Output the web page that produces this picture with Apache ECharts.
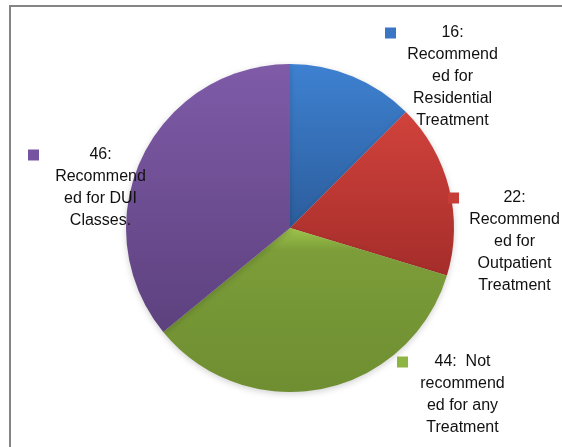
<!DOCTYPE html>
<html>
<head>
<meta charset="utf-8">
<script src="https://cdn.jsdelivr.net/npm/echarts@6/dist/echarts.min.js"></script>
<style>
  html, body { margin: 0; padding: 0; background: #fff; }
  #frame { position: absolute; left: 9px; top: 5px; width: 700px; height: 700px;
           border-left: 2px solid #858585; border-top: 2px solid #858585; box-sizing: border-box; }
  #chart { position: absolute; left: 0; top: 0; width: 562px; height: 447px; }
</style>
</head>
<body>
<div id="frame"></div>
<div id="chart"></div>
<script>
// ---- data ----
var categories = [
  'Recommended for Residential Treatment',
  'Recommended for Outpatient Treatment',
  'Not recommended for any Treatment',
  'Recommended for DUI Classes.'
];
var values = [16, 22, 44, 46];
var labelLines = [
  ['16:', 'Recommend', 'ed for', 'Residential', 'Treatment'],
  ['22:', 'Recommend', 'ed for', 'Outpatient', 'Treatment'],
  ['44:  Not', 'recommend', 'ed for any', 'Treatment'],
  ['46:', 'Recommend', 'ed for DUI', 'Classes.']
];

// ---- styles / layout ----
var gradients = [
  ['#3e81d1', '#2c5d9c'],
  ['#d1423c', '#a52d2a'],
  ['#9dc44b', '#6e8e31'],
  ['#7f5ba8', '#5d417e']
];
var markerColors = ['#3a76c4', '#c63c36', '#8db543', '#7653a0'];
var labelPos = [[385, 22], [448, 187], [397, 351], [28, 144]];
var textWidths = [114, 112, 110, 124];
var MARK = 11;

function grad(c, i) {
  if (i === 2) {
    return new echarts.graphic.LinearGradient(0, 0, 0, 1, [
      { offset: 0, color: c[0] }, { offset: 0.14, color: '#7c9d39' }, { offset: 1, color: c[1] }
    ]);
  }
  return new echarts.graphic.LinearGradient(0, 0, 0, 1, [
    { offset: 0, color: c[0] }, { offset: 1, color: c[1] }
  ]);
}

var font = { fontFamily: 'Liberation Sans', fontSize: 16, color: '#111', lineHeight: 22 };

var data = values.map(function (v, i) {
  var rich = { s: { width: MARK, height: 10, lineHeight: 22 } };
  rich['m' + i] = { width: MARK, height: MARK, lineHeight: 22, backgroundColor: markerColors[i] };
  rich['t' + i] = Object.assign({ width: textWidths[i] - 1, align: 'center' }, font);
  return {
    name: categories[i],
    value: v,
    itemStyle: { color: grad(gradients[i], i) },
    label: { rich: rich, width: MARK + textWidths[i] - 1 }
  };
});

var chart = echarts.init(document.getElementById('chart'), null, { renderer: 'canvas' });
chart.setOption({
  animation: false,
  series: [{
    type: 'pie',
    center: [290, 228],
    radius: 164,
    startAngle: 90,
    clockwise: true,
    avoidLabelOverlap: false,
    data: data,
    itemStyle: { borderWidth: 0, shadowBlur: 6, shadowColor: 'rgba(0,0,0,0.18)', shadowOffsetY: 2 },
    emphasis: { disabled: true },
    labelLine: { show: false },
    label: {
      show: true,
      position: 'outside',
      fontFamily: 'Liberation Sans',
      fontSize: 16,
      color: '#111',
      lineHeight: 22,
      formatter: function (p) {
        var i = p.dataIndex;
        return labelLines[i].map(function (l, k) {
          return (k === 0 ? '{m' + i + '|}' : '{s|}') + '{t' + i + '|' + l + '}';
        }).join('\n');
      }
    },
    labelLayout: function (params) {
      var pos = labelPos[params.dataIndex];
      return { x: pos[0], y: pos[1], align: 'left', verticalAlign: 'top' };
    }
  }]
});
</script>
</body>
</html>
